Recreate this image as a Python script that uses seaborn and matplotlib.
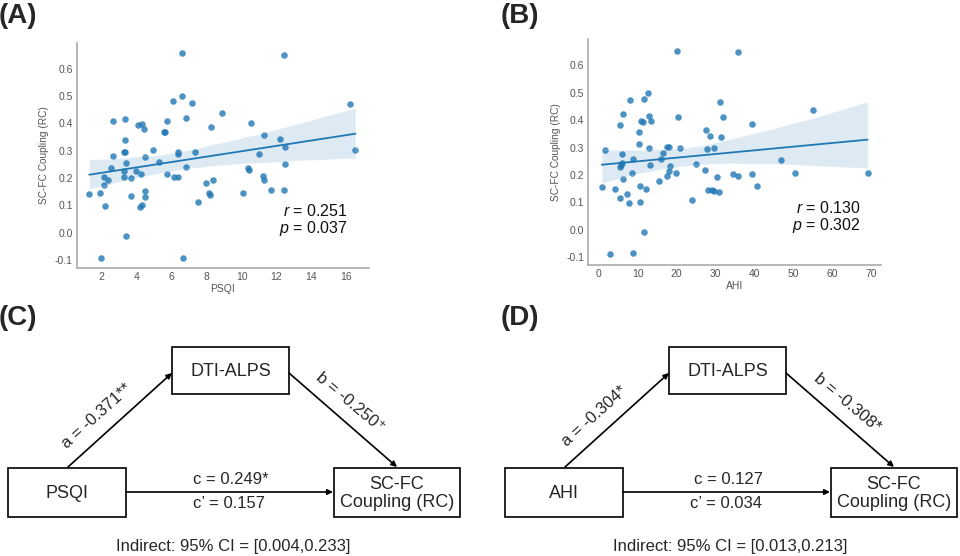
import matplotlib
matplotlib.use("Agg")
import matplotlib.pyplot as plt
from matplotlib.patches import Rectangle
import pandas as pd
import seaborn as sns

# panel A: PSQI vs SC-FC coupling
psqi = [1.28, 1.87, 2.10, 2.15, 2.20, 2.38, 2.51, 2.65, 2.65, 1.96, 3.33, 3.33,
        3.26, 3.33, 3.26, 3.26, 3.39, 3.39, 3.68, 3.68, 3.96, 4.08, 4.25, 4.32,
        4.40, 4.17, 4.29, 4.46, 4.46, 4.50, 4.95, 5.28, 5.56, 5.64, 5.75, 5.75,
        6.08, 6.13, 6.38, 6.34, 6.34, 6.59, 6.59, 6.65, 6.80, 6.84, 7.14, 7.35,
        7.50, 7.94, 8.15, 8.19, 8.27, 8.38, 8.88, 10.06, 10.34, 10.40, 10.51,
        11.01, 11.22, 11.26, 11.30, 11.71, 12.17, 12.42, 12.44, 12.50, 12.51,
        16.23, 16.51]
rc_a = [0.141, 0.146, 0.174, 0.205, 0.098, 0.191, 0.238, 0.281, 0.410, -0.092,
        0.416, 0.339, 0.296, 0.296, 0.227, 0.202, 0.256, -0.012, 0.201, 0.135,
        0.225, 0.393, 0.216, 0.399, 0.381, 0.092, 0.102, 0.153, 0.129, 0.278,
        0.301, 0.257, 0.367, 0.370, 0.410, 0.214, 0.480, 0.203, 0.203, 0.295,
        0.288, 0.657, 0.500, -0.095, 0.239, 0.420, 0.473, 0.294, 0.113, 0.181,
        0.146, 0.137, 0.385, 0.194, 0.437, 0.143, 0.235, 0.229, 0.400, 0.289,
        0.208, 0.358, 0.192, 0.156, 0.343, 0.156, 0.651, 0.252, 0.312, 0.470,
        0.301]

# panel B: AHI vs SC-FC coupling
ahi = [0.77, 1.62, 2.81, 4.26, 5.46, 5.46, 5.46, 5.80, 6.05, 6.05, 6.14, 6.31,
       7.33, 7.67, 8.10, 8.53, 8.78, 8.87, 10.23, 10.40, 10.49, 10.66, 10.83,
       11.25, 11.60, 11.68, 12.10, 12.62, 12.87, 12.96, 13.21, 13.30, 15.35,
       16.03, 16.45, 17.56, 17.99, 17.56, 17.99, 18.33, 19.78, 20.12, 20.37,
       20.89, 24.04, 25.06, 27.37, 27.54, 27.79, 27.96, 28.64, 29.16, 29.58,
       29.67, 30.26, 30.78, 31.20, 31.37, 31.80, 34.44, 35.63, 35.81, 39.39,
       39.39, 40.58, 46.72, 50.47, 54.99, 68.97]
rc_b = [0.155, 0.292, -0.090, 0.149, 0.115, 0.381, 0.229, 0.237, 0.243, 0.278,
        0.184, 0.421, 0.131, 0.096, 0.472, 0.207, -0.087, 0.258, 0.357, 0.313,
        0.159, 0.100, 0.397, 0.393, 0.479, -0.007, 0.149, 0.498, 0.416, 0.298,
        0.236, 0.398, 0.177, 0.257, 0.281, 0.303, 0.303, 0.196, 0.215, 0.231,
        0.208, 0.652, 0.410, 0.298, 0.107, 0.241, 0.217, 0.365, 0.296, 0.144,
        0.342, 0.145, 0.142, 0.300, 0.193, 0.138, 0.468, 0.340, 0.410, 0.205,
        0.650, 0.195, 0.202, 0.385, 0.159, 0.253, 0.206, 0.437, 0.206]

stats_text = [("0.251", "0.037"), ("0.130", "0.302")]

# mediation coefficients
med_x = ["PSQI", "AHI"]
path_a = ["a = -0.371**", "a = -0.304*"]
path_b = ["b = -0.250\u207a", "b = -0.308*"]
path_c = ["c = 0.249*", "c = 0.127"]
path_cp = ["c\u2019 = 0.157", "c\u2019 = 0.034"]
indirect = ["Indirect: 95% CI = [0.004,0.233]", "Indirect: 95% CI = [0.013,0.213]"]

sns.set_style("white")
plt.rcParams["font.family"] = ["Liberation Sans", "DejaVu Sans"]
plt.rcParams["mathtext.fontset"] = "custom"
plt.rcParams["mathtext.it"] = "Liberation Sans:italic"
plt.rcParams["mathtext.rm"] = "Liberation Sans"

fig = plt.figure(figsize=(9.6, 5.56), dpi=100)

df_a = pd.DataFrame({"PSQI": psqi, "RC": rc_a})
df_b = pd.DataFrame({"AHI": ahi, "RC": rc_b})

scatter_setup = [
    (df_a, "PSQI", [0.080, 0.518, 0.304, 0.405], (0.57, 17.27), range(2, 17, 2)),
    (df_b, "AHI", [0.613, 0.523, 0.305, 0.406], (-2.64, 72.5), range(0, 71, 10)),
]

for i, (df, xcol, rect, xlim, xt) in enumerate(scatter_setup):
    ax = fig.add_axes(rect)
    sns.regplot(data=df, x=xcol, y="RC", ax=ax, color="#1f77b4", seed=3,
                scatter_kws={"s": 22, "alpha": 0.8, "linewidths": 0},
                line_kws={"lw": 1.3})
    ax.set_xlim(*xlim)
    ax.set_ylim(-0.13, 0.695)
    ax.set_xticks(list(xt))
    ax.set_yticks([-0.1, 0.0, 0.1, 0.2, 0.3, 0.4, 0.5, 0.6])
    ax.set_yticklabels(["-0.1", "0.0", "0.1", "0.2", "0.3", "0.4", "0.5", "0.6"])
    ax.tick_params(labelsize=7.5, colors="#555555", length=0, pad=3)
    ax.set_xlabel(xcol, fontsize=7.5, color="#555555", labelpad=1)
    ax.set_ylabel("SC-FC Coupling (RC)", fontsize=7.3, color="#555555", labelpad=4)
    sns.despine(ax=ax)
    for s in ["left", "bottom"]:
        ax.spines[s].set_color("#aaaaaa")
        ax.spines[s].set_linewidth(1.2)
    r, p = stats_text[i]
    ax.text(0.93, 0.255, f"$r$ = {r}", transform=ax.transAxes, ha="right",
            va="center", fontsize=11.5, color="#111111")
    ax.text(0.93, 0.175, f"$p$ = {p}", transform=ax.transAxes, ha="right",
            va="center", fontsize=11.5, color="#111111")

# overlay in pixel coordinates for diagrams and panel letters
ov = fig.add_axes([0, 0, 1, 1])
ov.set_xlim(0, 960)
ov.set_ylim(556, 0)
ov.axis("off")

for lab, (x, y) in zip(["(A)", "(B)", "(C)", "(D)"],
                       [(-1, 16), (501, 16), (-1, 318), (501, 318)]):
    ov.text(x, y, lab, fontsize=20, fontweight="bold", ha="left", va="center")


def box(x0, y0, x1, y1, txt):
    ov.add_patch(Rectangle((x0, y0), x1 - x0, y1 - y0, fill=False, ec="black", lw=1.2))
    ov.text((x0 + x1) / 2, (y0 + y1) / 2 + 1, txt, ha="center", va="center",
            fontsize=13, linespacing=1.05)


def arrow(p0, p1):
    ov.annotate("", xy=p1, xytext=p0,
                arrowprops=dict(arrowstyle="-|>", color="black", lw=1.2,
                                mutation_scale=8, shrinkA=0, shrinkB=0))


for k, dx in enumerate([0, 497]):
    box(8 + dx, 468, 126 + dx, 517, med_x[k])
    box(172 + dx, 347, 289 + dx, 394, "DTI-ALPS")
    box(334 + dx, 468, 460 + dx, 517, "SC-FC\nCoupling (RC)")
    arrow((68 + dx, 467), (172 + dx, 373))
    arrow((289 + dx, 373), (397 + dx, 467))
    arrow((126 + dx, 492), (333 + dx, 492))
    ov.text(97 + dx, 416, path_a[k], rotation=42, ha="center", va="center",
            fontsize=12, rotation_mode="anchor")
    ov.text(350 + dx, 403, path_b[k], rotation=-40, ha="center", va="center",
            fontsize=12, rotation_mode="anchor")
    ov.text(231 + dx, 480, path_c[k], ha="center", va="center", fontsize=12)
    ov.text(229 + dx, 504, path_cp[k], ha="center", va="center", fontsize=12)
    ov.text(233 + dx, 546, indirect[k], ha="center", va="center", fontsize=12)

fig.savefig("out.png", dpi=100)
